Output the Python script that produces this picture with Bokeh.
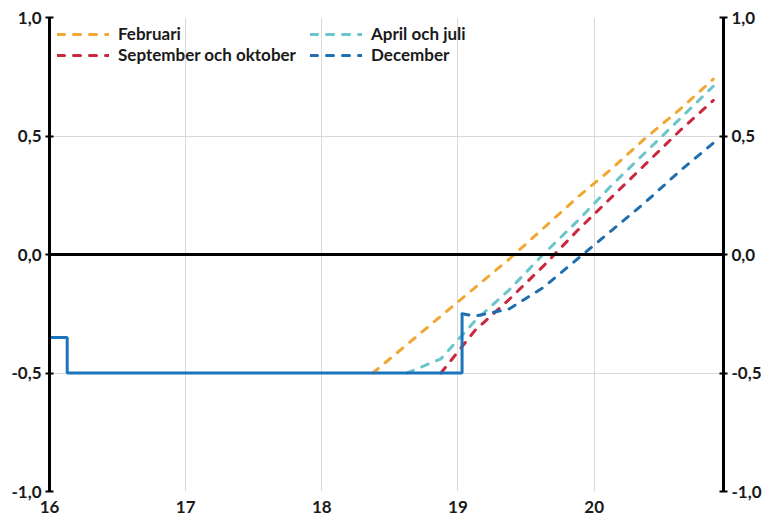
from bokeh.plotting import figure
from bokeh.models import Range1d, LinearAxis, Span, Legend, LegendItem, FixedTicker
from bokeh.embed import file_html
from bokeh.resources import INLINE

# Repo rate (step), x in years (16 = 2016)
repo_x = [16.0, 16.13, 19.03]
repo_y = [-0.35, -0.50, -0.25]

# Forecast paths (quarterly)
feb_x = [18.375, 18.625, 18.875, 19.125, 19.375, 19.625, 19.875, 20.125, 20.375, 20.625, 20.875]
feb_y = [-0.50, -0.38, -0.26, -0.14, -0.02, 0.11, 0.24, 0.36, 0.49, 0.61, 0.74]

aprjul_x = [18.625, 18.875, 19.125, 19.375, 19.625, 19.875, 20.125, 20.375, 20.625, 20.875]
aprjul_y = [-0.50, -0.44, -0.28, -0.15, 0.00, 0.14, 0.29, 0.43, 0.57, 0.71]

sepokt_x = [18.875, 19.125, 19.375, 19.625, 19.875, 20.125, 20.375, 20.625, 20.875]
sepokt_y = [-0.50, -0.32, -0.19, -0.05, 0.10, 0.24, 0.38, 0.52, 0.65]

dec_x = [19.03, 19.125, 19.375, 19.625, 19.875, 20.125, 20.375, 20.625, 20.875]
dec_y = [-0.25, -0.26, -0.23, -0.14, -0.02, 0.10, 0.22, 0.35, 0.47]

labels = ["Februari", "April och juli", "September och oktober", "December"]
y_ticks = [-1.0, -0.5, 0.0, 0.5, 1.0]
y_tick_labels = ["-1,0", "-0,5", "0,0", "0,5", "1,0"]
x_ticks = [16, 17, 18, 19, 20]

FONT = "Lato"
TXT = "#1a1a1a"
FS = "17px"

p = figure(width=772, height=522, output_backend="svg", toolbar_location=None,
           x_range=Range1d(16, 20.95), y_range=Range1d(-1, 1),
           min_border_left=49, min_border_right=49, min_border_top=17, min_border_bottom=31)
p.outline_line_color = None
p.background_fill_color = "white"

# grids
p.xgrid.ticker = FixedTicker(ticks=[17, 18, 19, 20])
p.ygrid.ticker = FixedTicker(ticks=[-1.0, -0.5, 0.5, 1.0])
p.grid.grid_line_color = "#d9d9d9"
p.grid.grid_line_width = 1

overrides = {t: l for t, l in zip(y_ticks, y_tick_labels)}

def style_y(ax):
    ax.ticker = FixedTicker(ticks=y_ticks)
    ax.major_label_overrides = overrides
    ax.axis_line_color = "black"
    ax.axis_line_width = 3
    ax.major_tick_line_color = "black"
    ax.major_tick_line_width = 2
    ax.major_tick_in = 4
    ax.major_tick_out = 4
    ax.minor_tick_line_color = None
    ax.major_label_text_font = FONT
    ax.major_label_text_font_style = "bold"
    ax.major_label_text_font_size = FS
    ax.major_label_text_color = TXT
    ax.major_label_standoff = 4

style_y(p.yaxis[0])
right = LinearAxis()
style_y(right)
p.add_layout(right, "right")

xa = p.xaxis[0]
xa.ticker = FixedTicker(ticks=x_ticks)
xa.axis_line_color = None
xa.major_tick_line_color = None
xa.minor_tick_line_color = None
xa.major_tick_in = 0
xa.major_tick_out = 0
xa.major_label_text_font = FONT
xa.major_label_text_font_style = "bold"
xa.major_label_text_font_size = FS
xa.major_label_text_color = TXT
xa.major_label_standoff = 9

# zero line
p.add_layout(Span(location=0, dimension="width", line_color="black", line_width=3))

dash = "7 9"
kw = dict(line_width=3, line_dash=dash, line_cap="round")
r_feb = p.line(feb_x, feb_y, line_color="#F2A735", **kw)
r_apr = p.line(aprjul_x, aprjul_y, line_color="#6CC5CB", **kw)
r_sep = p.line(sepokt_x, sepokt_y, line_color="#C9283E", **kw)
r_dec = p.line(dec_x, dec_y, line_color="#1F6FB0", **kw)

p.step(repo_x, repo_y, mode="after", line_color="#1C75BC", line_width=3)

def mk_legend(items, loc):
    lg = Legend(items=items, location=loc, orientation="vertical",
                background_fill_alpha=0, border_line_color=None,
                padding=0, margin=0, spacing=0,
                glyph_width=52, glyph_height=20, label_standoff=9,
                label_height=20,
                label_text_font=FONT, label_text_font_style="bold",
                label_text_font_size=FS, label_text_color=TXT)
    p.add_layout(lg)

mk_legend([LegendItem(label=labels[0], renderers=[r_feb]),
           LegendItem(label=labels[2], renderers=[r_sep])], (8, 426))
mk_legend([LegendItem(label=labels[1], renderers=[r_apr]),
           LegendItem(label=labels[3], renderers=[r_dec])], (261, 426))

open("out.html", "w").write(file_html(p, INLINE))
